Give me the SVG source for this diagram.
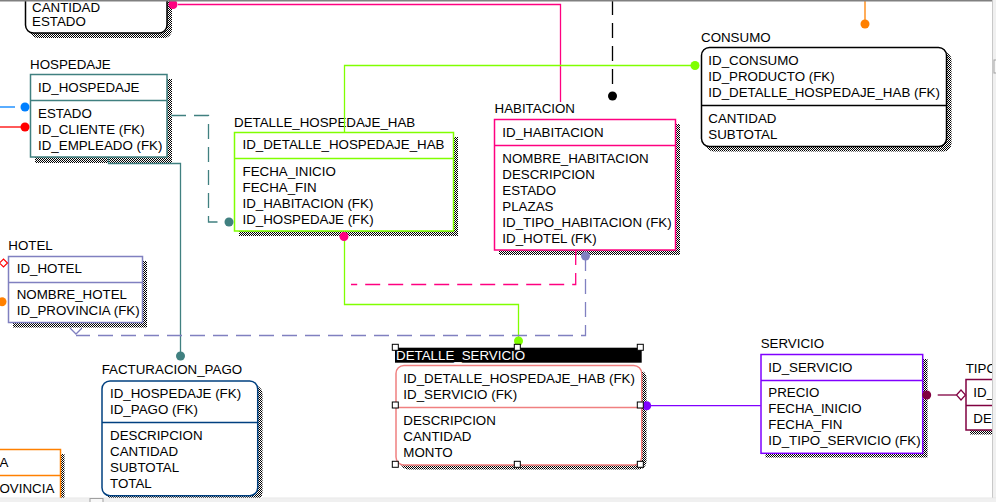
<svg xmlns="http://www.w3.org/2000/svg" width="996" height="502" viewBox="0 0 996 502">
<style>
.t{font-family:"Liberation Sans",Arial,sans-serif;font-size:13.33px;fill:#000}
.w{fill:#fff}
.sh{fill:url(#chk)}
.bx{fill:#fff;stroke-width:1.5}
.ln{fill:none;stroke-width:1.3}
.ds{stroke-dasharray:15 8}
.hd{fill:#fff;stroke:#000;stroke-width:1}
</style>
<defs>
<pattern id="chk" width="2" height="2" patternUnits="userSpaceOnUse"><rect width="1" height="1" fill="#000"/><rect x="1" y="1" width="1" height="1" fill="#000"/></pattern>
</defs>
<rect width="996" height="502" fill="#fff"/>

<g id="ent-top">
<rect class="sh" x="30" y="-10" width="142" height="48" rx="8"/>
<rect class="bx" x="25.5" y="-15" width="141.5" height="48" rx="8" stroke="#000"/>
<text class="t" x="32" y="11.5">CANTIDAD</text>
<text class="t" x="32" y="26">ESTADO</text>
</g>

<g id="hospedaje">
<text class="t" x="30" y="69">HOSPEDAJE</text>
<rect class="sh" x="35" y="79" width="137" height="84"/>
<rect class="bx" x="30.5" y="74.5" width="136.5" height="82.5" stroke="#408080"/>
<line x1="30.5" y1="100.5" x2="167" y2="100.5" stroke="#408080" stroke-width="1.5"/>
<text class="t" x="38" y="92">ID_HOSPEDAJE</text>
<text class="t" x="38" y="117.5">ESTADO</text>
<text class="t" x="38" y="133.5">ID_CLIENTE (FK)</text>
<text class="t" x="38" y="149.5">ID_EMPLEADO (FK)</text>
</g>

<g id="detalle_hospedaje_hab">
<text class="t" x="234" y="127">DETALLE_HOSPEDAJE_HAB</text>
<rect class="sh" x="239" y="137" width="219" height="99"/>
<rect class="bx" x="234.5" y="132.5" width="219" height="98.5" stroke="#80ff00"/>
<line x1="234.5" y1="158.5" x2="453.5" y2="158.5" stroke="#80ff00" stroke-width="1.5"/>
<text class="t" x="242.5" y="149.3">ID_DETALLE_HOSPEDAJE_HAB</text>
<text class="t" x="242.5" y="176">FECHA_INICIO</text>
<text class="t" x="242.5" y="192">FECHA_FIN</text>
<text class="t" x="242.5" y="208">ID_HABITACION (FK)</text>
<text class="t" x="242.5" y="224">ID_HOSPEDAJE (FK)</text>
</g>

<g id="habitacion">
<text class="t" x="494.5" y="113.3">HABITACION</text>
<rect class="sh" x="499" y="124" width="181" height="131"/>
<rect class="bx" x="494.5" y="119.5" width="181" height="130.5" stroke="#ff0080"/>
<line x1="494.5" y1="145.5" x2="675.5" y2="145.5" stroke="#ff0080" stroke-width="1.5"/>
<text class="t" x="502.3" y="136.7">ID_HABITACION</text>
<text class="t" x="502.3" y="162.5">NOMBRE_HABITACION</text>
<text class="t" x="502.3" y="178.5">DESCRIPCION</text>
<text class="t" x="502.3" y="194.5">ESTADO</text>
<text class="t" x="502.3" y="210.5">PLAZAS</text>
<text class="t" x="502.3" y="226.5">ID_TIPO_HABITACION (FK)</text>
<text class="t" x="502.3" y="242.5">ID_HOTEL (FK)</text>
</g>

<g id="consumo">
<text class="t" x="701" y="41.7">CONSUMO</text>
<rect class="sh" x="706" y="52" width="245.5" height="99.5" rx="8"/>
<rect class="bx" x="701.5" y="47.5" width="245" height="99" rx="8" stroke="#000"/>
<line x1="701.5" y1="105.5" x2="946.5" y2="105.5" stroke="#000" stroke-width="1.5"/>
<text class="t" x="708.3" y="64.7">ID_CONSUMO</text>
<text class="t" x="708.3" y="80.7">ID_PRODUCTO (FK)</text>
<text class="t" x="708.3" y="96.7">ID_DETALLE_HOSPEDAJE_HAB (FK)</text>
<text class="t" x="708.3" y="122.5">CANTIDAD</text>
<text class="t" x="708.3" y="138.5">SUBTOTAL</text>
</g>

<g id="hotel">
<text class="t" x="8.3" y="250">HOTEL</text>
<rect class="sh" x="13" y="261" width="134" height="66.5"/>
<rect class="bx" x="8.5" y="256.5" width="134" height="66" stroke="#8080c0"/>
<line x1="8.5" y1="282.5" x2="142.5" y2="282.5" stroke="#8080c0" stroke-width="1.5"/>
<text class="t" x="16.7" y="273.3">ID_HOTEL</text>
<text class="t" x="16.7" y="299">NOMBRE_HOTEL</text>
<text class="t" x="16.7" y="315">ID_PROVINCIA (FK)</text>
</g>

<g id="facturacion_pago">
<text class="t" x="101.7" y="374.3">FACTURACION_PAGO</text>
<rect class="sh" x="106.5" y="385.5" width="156" height="115" rx="8"/>
<rect class="bx" x="102" y="381" width="155.7" height="114.7" rx="8" stroke="#004080"/>
<line x1="102" y1="422.5" x2="257.7" y2="422.5" stroke="#004080" stroke-width="1.5"/>
<text class="t" x="110" y="398.3">ID_HOSPEDAJE (FK)</text>
<text class="t" x="110" y="414">ID_PAGO (FK)</text>
<text class="t" x="110" y="440">DESCRIPCION</text>
<text class="t" x="110" y="456">CANTIDAD</text>
<text class="t" x="110" y="472">SUBTOTAL</text>
<text class="t" x="110" y="488">TOTAL</text>
</g>

<g id="ent-bottom-left">
<rect class="sh" x="-15" y="454" width="79.5" height="60"/>
<rect class="bx" x="-20" y="449.5" width="80.5" height="60" stroke="#ff8000"/>
<line x1="-20" y1="475.5" x2="60.5" y2="475.5" stroke="#ff8000" stroke-width="1.5"/>
<text class="t" x="-0.5" y="467.3">A</text>
<text class="t" x="-0.5" y="493.3">OVINCIA</text>
</g>

<g id="detalle_servicio">
<rect class="sh" x="400.5" y="370" width="246" height="99.5" rx="8"/>
<rect class="bx" x="396" y="365.5" width="245.7" height="99.5" rx="8" stroke="#f08080"/>
<line x1="396" y1="407.5" x2="641.7" y2="407.5" stroke="#f08080" stroke-width="1.5"/>
<rect x="395" y="347.7" width="246.7" height="15" fill="#000"/>
<text class="t w" x="396" y="359.5">DETALLE_SERVICIO</text>
<text class="t" x="403.3" y="383.3">ID_DETALLE_HOSPEDAJE_HAB (FK)</text>
<text class="t" x="403.3" y="399">ID_SERVICIO (FK)</text>
<text class="t" x="403.3" y="425">DESCRIPCION</text>
<text class="t" x="403.3" y="441">CANTIDAD</text>
<text class="t" x="403.3" y="457">MONTO</text>
</g>

<g id="servicio">
<text class="t" x="760.7" y="348.3">SERVICIO</text>
<rect class="sh" x="765.5" y="359" width="162" height="98.5"/>
<rect class="bx" x="761" y="354.5" width="161.7" height="98.8" stroke="#8000ff"/>
<line x1="761" y1="380.5" x2="922.7" y2="380.5" stroke="#8000ff" stroke-width="1.5"/>
<text class="t" x="768.3" y="371.7">ID_SERVICIO</text>
<text class="t" x="768.3" y="396.7">PRECIO</text>
<text class="t" x="768.3" y="413">FECHA_INICIO</text>
<text class="t" x="768.3" y="429">FECHA_FIN</text>
<text class="t" x="768.3" y="445">ID_TIPO_SERVICIO (FK)</text>
</g>

<g id="tipo">
<text class="t" x="965.7" y="373.3">TIPO</text>
<rect class="sh" x="970" y="384" width="60" height="50.5"/>
<rect class="bx" x="966" y="379.5" width="60" height="50.5" stroke="#800040"/>
<line x1="966" y1="405.5" x2="1026" y2="405.5" stroke="#800040" stroke-width="1.5"/>
<text class="t" x="973.3" y="396.7">ID_</text>
<text class="t" x="973.3" y="423.3">DE</text>
</g>

<g id="connectors">
<polyline class="ln" stroke="#ff0080" points="178,4.5 560.5,4.5 560.5,102"/>
<circle cx="173" cy="4.5" r="4.5" fill="#ff0080"/>
<line class="ln ds" x1="0" y1="107" x2="21" y2="107" stroke="#0080ff" stroke-dasharray="4 5 20"/>
<circle cx="25" cy="107" r="4.5" fill="#0080ff"/>
<line class="ln" x1="0" y1="127" x2="21" y2="127" stroke="#ff0000"/>
<circle cx="25" cy="127" r="4.5" fill="#ff0000"/>
<polyline class="ln ds" stroke="#408080" points="171,115.5 208.5,115.5 208.5,222 225,222"/>
<circle cx="229" cy="222" r="4.5" fill="#408080"/>
<polyline class="ln" stroke="#408080" points="108.5,157 108.5,163.5 180.5,163.5 180.5,352"/>
<circle cx="180.5" cy="356" r="4.5" fill="#408080"/>
<polyline class="ln" stroke="#80ff00" points="344.5,132 344.5,65.5 691,65.5"/>
<circle cx="695" cy="65.5" r="4.5" fill="#80ff00"/>
<polyline class="ln" stroke="#80ff00" points="344.5,240 344.5,304.5 518.5,304.5 518.5,337"/>
<circle cx="518.5" cy="341" r="4.5" fill="#80ff00"/>
<circle cx="344" cy="236.5" r="4.5" fill="#ff0080"/>
<polyline class="ln ds" stroke="#ff0080" points="575.7,250 575.7,284.5 351,284.5"/>
<polyline class="ln ds" stroke="#8080c0" points="585.5,256 585.5,335.5 76,335.5"/>
<polyline class="ln" stroke="#8080c0" points="70,328 76,334 82,328"/>
<circle cx="585.5" cy="256" r="4.5" fill="#8080c0"/>
<line class="ln ds" x1="612.5" y1="0" x2="612.5" y2="91" stroke="#000"/>
<circle cx="612.5" cy="96" r="4.5" fill="#000"/>
<line class="ln" x1="865" y1="0" x2="865" y2="22" stroke="#ff8000"/>
<circle cx="865" cy="24" r="4.5" fill="#ff8000"/>
<line class="ln" x1="646" y1="405.7" x2="760.7" y2="405.7" stroke="#8000ff"/>
<circle cx="646.7" cy="405.7" r="4.5" fill="#8000ff"/>
<circle cx="926.7" cy="395" r="4.5" fill="#800040"/>
<line class="ln" x1="937.7" y1="395" x2="956.5" y2="395" stroke="#800040"/>
<polygon points="956.5,395 961,390 965.5,395 961,400" fill="#fff" stroke="#800040" stroke-width="1.2"/>
<polygon points="-0.5,263 3.5,259 7.5,263 3.5,267" fill="#fff" stroke="#ff0000" stroke-width="1.2"/>
<circle cx="2" cy="301.7" r="4.5" fill="#ff8000"/>
</g>

<g id="handles">
<rect class="hd" x="392.3" y="344.3" width="6" height="6"/>
<rect class="hd" x="514.3" y="344.3" width="6" height="6"/>
<rect class="hd" x="637.3" y="344.3" width="6" height="6"/>
<rect class="hd" x="392.3" y="402" width="6" height="6"/>
<rect class="hd" x="637.3" y="402" width="6" height="6"/>
<rect class="hd" x="392.3" y="461.3" width="6" height="6"/>
<rect class="hd" x="514.3" y="461.3" width="6" height="6"/>
<rect class="hd" x="637.3" y="461.3" width="6" height="6"/>
</g>

<rect x="0" y="0" width="996" height="1.5" fill="#808080"/>
<rect x="992.5" y="0" width="3.5" height="502" fill="#f0f0f0"/>
<line x1="992.5" y1="0" x2="992.5" y2="502" stroke="#c8c8c8" stroke-width="1"/>
<rect x="994" y="60" width="3" height="13" fill="#f8f8f8" stroke="#a0a0a0" stroke-width="1"/>
<rect x="0" y="498" width="996" height="4" fill="#f0f0f0"/>
<line x1="0" y1="497.8" x2="996" y2="497.8" stroke="#e0e0e0" stroke-width="0.6"/>
<rect x="90" y="498.5" width="13" height="4" fill="#f8f8f8" stroke="#a0a0a0" stroke-width="1"/>
</svg>
